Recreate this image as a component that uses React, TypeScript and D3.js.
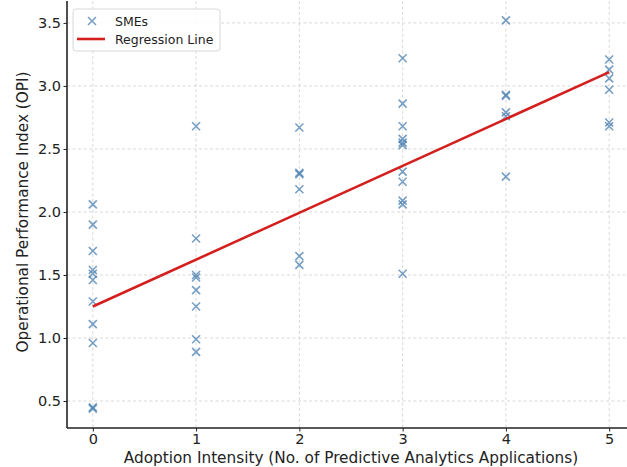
import { useEffect, useRef } from 'react';
import * as d3 from 'd3';

// adoption intensity (x) and OPI values (y), read per column
const col0 = [2.06, 1.90, 1.69, 1.54, 1.51, 1.46, 1.29, 1.11, 0.96, 0.45, 0.44];
const col1 = [2.68, 1.79, 1.50, 1.48, 1.38, 1.25, 0.99, 0.89];
const col2 = [2.67, 2.31, 2.30, 2.18, 1.65, 1.58];
const col3 = [3.22, 2.86, 2.68, 2.58, 2.55, 2.53, 2.32, 2.24, 2.09, 2.06, 1.51];
const col4 = [3.52, 2.93, 2.92, 2.79, 2.76, 2.28];
const col5 = [3.21, 3.13, 3.06, 2.97, 2.71, 2.68];
const columns = [col0, col1, col2, col3, col4, col5];

const regX = [0, 5];
const regY = [1.25, 3.11];

const xTicks = [0, 1, 2, 3, 4, 5];
const yTicks = [0.5, 1.0, 1.5, 2.0, 2.5, 3.0, 3.5];

export default function App() {
  const ref = useRef<SVGSVGElement>(null);

  useEffect(() => {
    const svg = d3.select(ref.current);
    if (!ref.current) return;
    svg.selectAll('*').remove();

    const W = 627, H = 467;
    const left = 67, right = 635, top = 1, bottom = 428;
    const font = 'DejaVu Sans, sans-serif';

    const x = d3.scaleLinear().domain([-0.25, 5.25]).range([left, right]);
    const y = d3.scaleLinear().domain([0.286, 3.674]).range([bottom, top]);

    svg.attr('width', W).attr('height', H);
    svg.append('rect').attr('width', W).attr('height', H).attr('fill', '#fff');

    // grid
    const grid = svg.append('g').attr('stroke', '#cfcfcf').attr('stroke-width', 0.8).attr('stroke-dasharray', '3,2.5');
    xTicks.forEach(t => grid.append('line').attr('x1', x(t)).attr('x2', x(t)).attr('y1', top).attr('y2', bottom));
    yTicks.forEach(t => grid.append('line').attr('x1', left).attr('x2', right).attr('y1', y(t)).attr('y2', y(t)));

    // points
    const pts = columns.flatMap((vals, i) => vals.map(v => ({ k: i, v })));
    const s = 4;
    const marks = svg.append('g').attr('stroke', '#4a7fb0').attr('stroke-opacity', 0.75).attr('stroke-width', 1.6);
    pts.forEach(p => {
      const cx = x(p.k), cy = y(p.v);
      marks.append('path').attr('d', `M${cx - s},${cy - s}L${cx + s},${cy + s}M${cx - s},${cy + s}L${cx + s},${cy - s}`);
    });

    // regression line
    const line = d3.line<number>().x((_, i) => x(regX[i])).y(d => y(d));
    svg.append('path').datum(regY).attr('d', line)
      .attr('fill', 'none').attr('stroke', '#d41f1f').attr('stroke-width', 2.6);

    // axes
    svg.append('g').attr('transform', `translate(0,${bottom})`)
      .call(d3.axisBottom(x).tickValues(xTicks).tickFormat(d => `${d}`).tickSize(3.5).tickPadding(2.5))
      .call(gg => gg.select('.domain').remove())
      .call(gg => gg.selectAll('line').attr('stroke', '#222'))
      .call(gg => gg.selectAll('text').attr('font-family', font).attr('font-size', 14.5).attr('fill', '#222'));

    svg.append('g').attr('transform', `translate(${left},0)`)
      .call(d3.axisLeft(y).tickValues(yTicks).tickFormat(d3.format('.1f')).tickSize(3.5).tickPadding(2.5))
      .call(gg => gg.select('.domain').remove())
      .call(gg => gg.selectAll('line').attr('stroke', '#222'))
      .call(gg => gg.selectAll('text').attr('font-family', font).attr('font-size', 14.5).attr('fill', '#222'));

    // spines
    svg.append('line').attr('x1', left).attr('x2', left).attr('y1', top).attr('y2', bottom)
      .attr('stroke', '#222').attr('stroke-width', 1.6);
    svg.append('line').attr('x1', left).attr('x2', right).attr('y1', bottom).attr('y2', bottom)
      .attr('stroke', '#222').attr('stroke-width', 1.6);

    // axis labels
    svg.append('text').attr('x', (x(0) + x(5)) / 2).attr('y', 463)
      .attr('text-anchor', 'middle').attr('font-family', font).attr('font-size', 15.3).attr('fill', '#222')
      .text('Adoption Intensity (No. of Predictive Analytics Applications)');
    svg.append('text').attr('transform', 'rotate(-90)').attr('x', -(y(0.5) + y(3.5)) / 2).attr('y', 28)
      .attr('text-anchor', 'middle').attr('font-family', font).attr('font-size', 15.3).attr('fill', '#222')
      .text('Operational Performance Index (OPI)');

    // legend
    const lg = svg.append('g').attr('transform', 'translate(73,9)');
    lg.append('rect').attr('width', 147).attr('height', 42).attr('rx', 3)
      .attr('fill', '#fff').attr('fill-opacity', 0.85).attr('stroke', '#d8d8d8');
    lg.append('path').attr('d', `M${19 - s},${12 - s}L${19 + s},${12 + s}M${19 - s},${12 + s}L${19 + s},${12 - s}`)
      .attr('stroke', '#4a7fb0').attr('stroke-opacity', 0.75).attr('stroke-width', 1.6);
    lg.append('text').attr('x', 42).attr('y', 16.5).attr('font-family', font).attr('font-size', 12.5).attr('fill', '#222').text('SMEs');
    lg.append('line').attr('x1', 4).attr('x2', 32).attr('y1', 30).attr('y2', 30).attr('stroke', '#d41f1f').attr('stroke-width', 2.6);
    lg.append('text').attr('x', 42).attr('y', 35).attr('font-family', font).attr('font-size', 12.5).attr('fill', '#222').text('Regression Line');
  }, []);

  return <svg ref={ref} style={{ position: 'absolute', left: 0, top: 0, display: 'block' }} />;
}
